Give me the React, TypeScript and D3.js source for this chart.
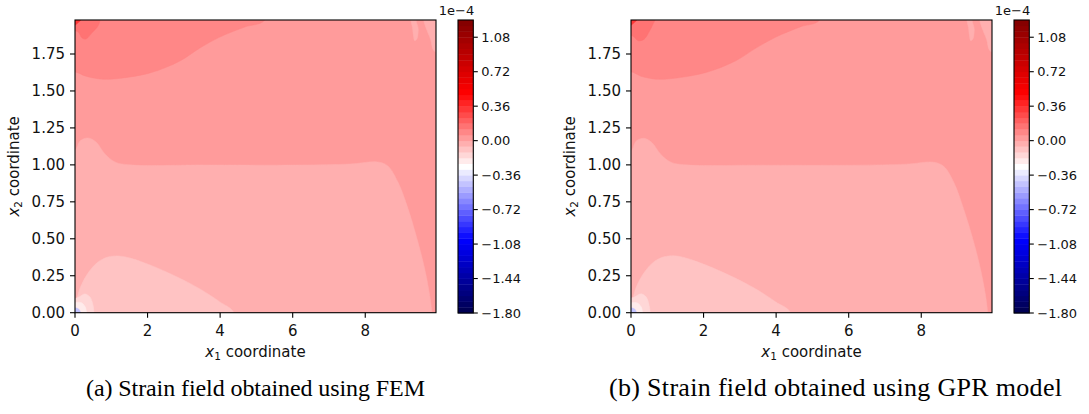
import React from "react";
import * as d3 from "d3";

// ---- axes / ticks ----
const xTicks = [0, 2, 4, 6, 8];
const yTicks = [0, 0.25, 0.5, 0.75, 1.0, 1.25, 1.5, 1.75];
const cbTicks = [-1.8, -1.44, -1.08, -0.72, -0.36, 0.0, 0.36, 0.72, 1.08];
const xDomain = [0, 9.95];
const yDomain = [0, 1.98];
const levelMin = -1.8;
const levelMax = 1.26;
const levelStep = 0.06;

// ---- FEM contour regions (data coords [x1, x2]) ----
const femBaseValue = 0.03;
const femLower = [[-0.3, 1.1], [0, 1.101], [0.138, 1.162], [0.358, 1.182], [0.579, 1.155], [0.826, 1.074], [1.102, 1.02], [1.515, 1.0], [3.444, 0.999], [6.198, 0.999], [7.576, 1.006], [8.347, 1.02], [8.623, 0.993], [8.898, 0.885], [9.174, 0.708], [9.421, 0.505], [9.614, 0.323], [9.752, 0.154], [9.835, 0], [9.87, -0.3], [-0.3, -0.3]];
const femBlob = [[-0.3, 0], [0.028, 0.086], [0.138, 0.167], [0.358, 0.268], [0.634, 0.343], [0.909, 0.377], [1.185, 0.384], [1.515, 0.37], [2.066, 0.323], [2.755, 0.249], [3.444, 0.161], [3.994, 0.073], [4.38, 0], [4.45, -0.3], [-0.3, -0.3]];
const femCornerLight = [[-0.2, 0.066], [0.11, 0.106], [0.275, 0.127], [0.413, 0.106], [0.496, 0.052], [0.523, 0], [0.53, -0.2], [-0.2, -0.2]];
const femCornerWhite = [[-0.2, 0.04], [0.15, 0.07], [0.28, 0.04], [0.32, 0], [0.32, -0.2], [-0.2, -0.2]];
const femCornerBlue = [[-0.2, 0.02], [0.06, 0.03], [0.14, 0.01], [0.15, -0.2], [-0.2, -0.2]];
const femTopDark = [[-0.3, 1.62], [0, 1.629], [0.275, 1.602], [0.689, 1.581], [1.047, 1.581], [2.066, 1.622], [2.893, 1.703], [3.444, 1.791], [3.994, 1.865], [4.683, 1.933], [5.234, 1.98], [5.5, 2.3], [-0.3, 2.3]];
const femTopDarker = [[-0.2, 1.927], [0.083, 1.9], [0.193, 1.859], [0.303, 1.852], [0.468, 1.893], [0.634, 1.94], [0.689, 1.98], [0.7, 2.2], [-0.2, 2.2]];
const femTopRed = [[-0.1, 1.94], [0.0, 1.945], [0.1, 1.965], [0.16, 1.98], [0.16, 2.1], [-0.1, 2.1]];
const femStreakA = [[9.256, 2.1], [9.256, 1.98], [9.30, 1.93], [9.33, 1.87], [9.36, 1.84], [9.42, 1.85], [9.46, 1.92], [9.40, 1.98], [9.40, 2.1]];
const femStreakB = [[9.6, 2.1], [9.61, 1.98], [9.70, 1.91], [9.80, 1.85], [9.9, 1.77], [10.2, 1.76], [10.2, 2.1]];
const femShapes = [femTopDark, femTopDarker, femTopRed, femLower, femBlob, femCornerLight, femCornerWhite, femCornerBlue, femStreakA, femStreakB];
const femValues = [0.09, 0.15, 0.33, -0.03, -0.09, -0.15, -0.21, -0.45, -0.03, -0.03];

// ---- GPR contour regions ----
const gprBaseValue = 0.03;
const gprLower = [[-0.3, 1.1], [0, 1.095], [0.138, 1.16], [0.358, 1.18], [0.579, 1.15], [0.826, 1.07], [1.102, 1.018], [1.515, 1.0], [3.444, 0.998], [6.198, 0.998], [7.576, 1.005], [8.347, 1.018], [8.62, 0.99], [8.9, 0.88], [9.17, 0.70], [9.42, 0.5], [9.61, 0.32], [9.75, 0.15], [9.83, 0], [9.87, -0.3], [-0.3, -0.3]];
const gprBlob = [[-0.3, 0], [0.028, 0.09], [0.138, 0.17], [0.358, 0.27], [0.634, 0.345], [0.909, 0.378], [1.185, 0.385], [1.515, 0.37], [2.066, 0.322], [2.755, 0.248], [3.444, 0.16], [3.994, 0.072], [4.4, 0], [4.45, -0.3], [-0.3, -0.3]];
const gprCornerLight = [[-0.2, 0.07], [0.11, 0.108], [0.275, 0.128], [0.42, 0.106], [0.5, 0.05], [0.53, 0], [0.53, -0.2], [-0.2, -0.2]];
const gprCornerWhite = [[-0.2, 0.04], [0.15, 0.068], [0.28, 0.04], [0.32, 0], [0.32, -0.2], [-0.2, -0.2]];
const gprCornerBlue = [[-0.2, 0.02], [0.06, 0.03], [0.14, 0.01], [0.15, -0.2], [-0.2, -0.2]];
const gprTopDark = [[-0.3, 1.62], [0, 1.63], [0.275, 1.6], [0.689, 1.58], [1.047, 1.582], [2.066, 1.625], [2.893, 1.705], [3.444, 1.79], [3.994, 1.865], [4.683, 1.935], [5.2, 1.98], [5.5, 2.3], [-0.3, 2.3]];
const gprTopDarker = [[-0.2, 1.9], [0.06, 1.87], [0.2, 1.84], [0.36, 1.85], [0.5, 1.9], [0.62, 1.96], [0.66, 1.98], [0.7, 2.2], [-0.2, 2.2]];
const gprTopRed = [[-0.1, 1.94], [0.0, 1.945], [0.1, 1.965], [0.16, 1.98], [0.16, 2.1], [-0.1, 2.1]];
const gprStreakA = [[9.256, 2.1], [9.256, 1.98], [9.30, 1.93], [9.33, 1.87], [9.36, 1.84], [9.42, 1.85], [9.46, 1.92], [9.40, 1.98], [9.40, 2.1]];
const gprStreakB = [[9.6, 2.1], [9.61, 1.98], [9.70, 1.91], [9.80, 1.85], [9.9, 1.77], [10.2, 1.76], [10.2, 2.1]];
const gprShapes = [gprTopDark, gprTopDarker, gprTopRed, gprLower, gprBlob, gprCornerLight, gprCornerWhite, gprCornerBlue, gprStreakA, gprStreakB];
const gprValues = [0.09, 0.15, 0.33, -0.03, -0.09, -0.15, -0.21, -0.45, -0.03, -0.03];

const captions = ["(a) Strain field obtained using FEM", "(b) Strain field obtained using GPR model"];

// seismic colormap
const seismic = d3
  .scaleLinear<string>()
  .domain([0, 0.25, 0.5, 0.75, 1])
  .range(["#00004d", "#0000ff", "#ffffff", "#ff0000", "#800000"])
  .interpolate(d3.interpolateRgb)
  .clamp(true);

const nBands = Math.round((levelMax - levelMin) / levelStep);
const bandColor = (v: number) => {
  let i = Math.floor((v - levelMin) / levelStep);
  i = Math.max(0, Math.min(nBands - 1, i));
  const mid = levelMin + (i + 0.5) * levelStep;
  return seismic((mid - levelMin) / (levelMax - levelMin));
};

const FONT = "DejaVu Sans";

function Panel({ ox, shapes, values, base, id, caption, captionX, captionLen, captionSize }: any) {
  const L = 75 + ox, R = 436 + ox, T = 20, B = 312.7;
  const x = d3.scaleLinear().domain(xDomain).range([L, R]);
  const y = d3.scaleLinear().domain(yDomain).range([B, T]);
  const line = d3
    .line<number[]>()
    .x((d) => x(d[0]))
    .y((d) => y(d[1]))
    .curve(d3.curveCatmullRomClosed.alpha(0.5));
  const cbL = 458 + ox, cbR = 473.3 + ox;
  const cy = d3.scaleLinear().domain([levelMin, levelMax]).range([313, 20]);
  const bands = d3.range(nBands);
  return (
    <g>
      <defs>
        <clipPath id={id}>
          <rect x={L} y={T} width={R - L} height={B - T} />
        </clipPath>
      </defs>
      <g clipPath={`url(#${id})`}>
        <rect x={L} y={T} width={R - L} height={B - T} fill={bandColor(base)} />
        {shapes.map((s: number[][], i: number) => (
          <path key={i} d={line(s) || ""} fill={bandColor(values[i])} stroke={bandColor(values[i])} strokeWidth={0.5} />
        ))}
      </g>
      <rect x={L} y={T} width={R - L} height={B - T} fill="none" stroke="#000" strokeWidth={1.1} />
      {xTicks.map((t) => (
        <g key={t}>
          <line x1={x(t)} x2={x(t)} y1={B} y2={B + 5} stroke="#000" strokeWidth={1.1} />
          <text x={x(t)} y={336} textAnchor="middle" fontFamily={FONT} fontSize={15} fill="#111">
            {t}
          </text>
        </g>
      ))}
      {yTicks.map((t) => (
        <g key={t}>
          <line x1={L - 5} x2={L} y1={y(t)} y2={y(t)} stroke="#000" strokeWidth={1.1} />
          <text x={L - 10} y={y(t)} dy="0.36em" textAnchor="end" fontFamily={FONT} fontSize={15} fill="#111">
            {t.toFixed(2)}
          </text>
        </g>
      ))}
      <text x={(L + R) / 2} y={357} textAnchor="middle" fontFamily={FONT} fontSize={15} fill="#111">
        <tspan fontStyle="italic">x</tspan>
        <tspan dy={3} fontSize={10.5}>1</tspan>
        <tspan dy={-3}> coordinate</tspan>
      </text>
      <text transform={`translate(${19 + ox},${(T + B) / 2}) rotate(-90)`} textAnchor="middle" fontFamily={FONT} fontSize={15} fill="#111">
        <tspan fontStyle="italic">x</tspan>
        <tspan dy={3} fontSize={10.5}>2</tspan>
        <tspan dy={-3}> coordinate</tspan>
      </text>
      {/* colorbar */}
      {bands.map((i) => {
        const lo = levelMin + i * levelStep;
        const hi = lo + levelStep;
        return (
          <rect key={i} x={cbL} width={cbR - cbL} y={cy(hi)} height={cy(lo) - cy(hi) + 0.4} fill={bandColor(lo + levelStep / 2)} />
        );
      })}
      <rect x={cbL} y={20} width={cbR - cbL} height={293} fill="none" stroke="#000" strokeWidth={1.1} />
      {cbTicks.map((t) => (
        <g key={t}>
          <line x1={cbR} x2={cbR + 4.5} y1={cy(t)} y2={cy(t)} stroke="#000" strokeWidth={1.1} />
          <text x={cbR + 8} y={cy(t)} dy="0.36em" fontFamily={FONT} fontSize={13} fill="#111">
            {(t < 0 ? "\u2212" : "") + Math.abs(t).toFixed(2)}
          </text>
        </g>
      ))}
      <text x={cbR + 1} y={15} textAnchor="end" fontFamily={FONT} fontSize={13} fill="#111">
        1e{"\u2212"}4
      </text>
      <text x={captionX} y={396} fontFamily="Liberation Serif" fontSize={captionSize} fill="#000" textLength={captionLen} lengthAdjust="spacing">
        {caption}
      </text>
    </g>
  );
}

export default function App() {
  return (
    <svg width={1089} height={414} style={{ position: "absolute", left: 0, top: 0, background: "#fff" }}>
      <rect width={1089} height={414} fill="#fff" />
      <Panel ox={0} shapes={femShapes} values={femValues} base={femBaseValue} id="clipA" caption={captions[0]} captionX={86} captionLen={339} captionSize={24} />
      <Panel ox={556} shapes={gprShapes} values={gprValues} base={gprBaseValue} id="clipB" caption={captions[1]} captionX={609} captionLen={453} captionSize={26} />
    </svg>
  );
}
